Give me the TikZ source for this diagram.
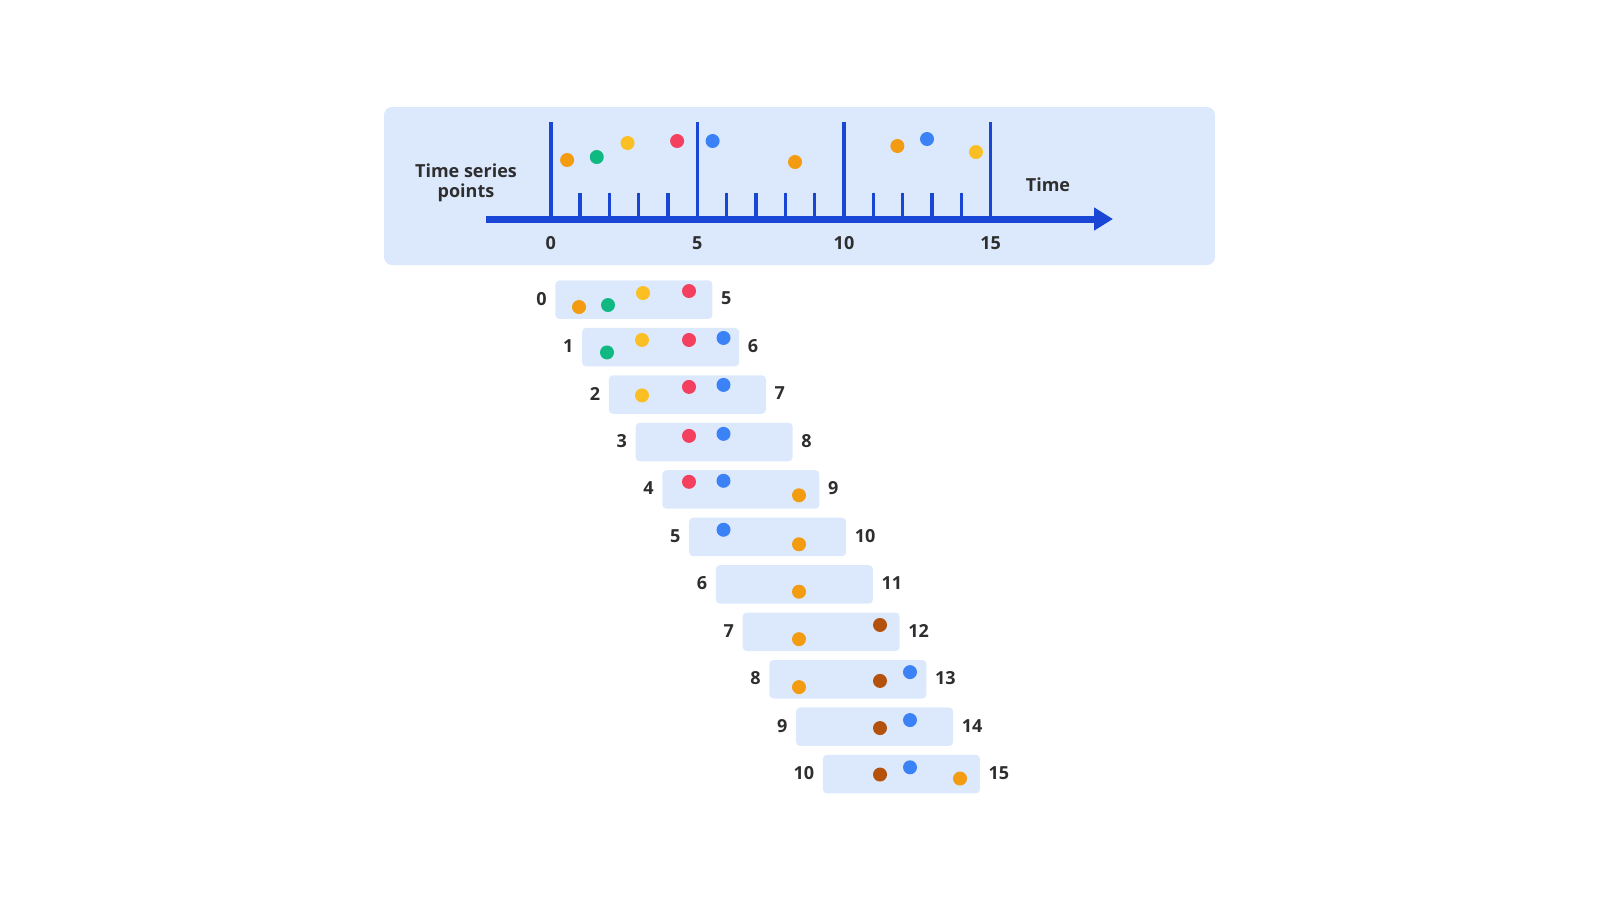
\documentclass[tikz,border=0pt]{standalone}
\usepackage{fontspec}
\setmainfont{Open Sans}
\usetikzlibrary{arrows.meta,positioning}
\definecolor{panelblue}{HTML}{DCE9FC}
\definecolor{axisblue}{HTML}{1A46D6}
\definecolor{txtgray}{HTML}{2E2E2E}
\definecolor{dotorange}{HTML}{F39C12}
\definecolor{dotgreen}{HTML}{10B981}
\definecolor{dotyellow}{HTML}{FBBF24}
\definecolor{dotred}{HTML}{F43F5E}
\definecolor{dotblue}{HTML}{3B82F6}
\definecolor{dotbrown}{HTML}{B4510C}
\tikzset{
  lbl/.style={font=\bfseries\fontsize{9}{10}\selectfont, text=txtgray, inner sep=0pt},
  win/.style={fill=panelblue, rounded corners=2pt, minimum width=78.5pt, minimum height=19.25pt, inner sep=0pt, anchor=north west},
  bigtick/.style={axisblue, line width=1.8pt},
  smalltick/.style={axisblue, line width=1.6pt}
}
\begin{document}
\begin{tikzpicture}[x=0.5pt,y=-0.5pt]
\useasboundingbox (0,0) rectangle (1600,901);
% top panel
\fill[panelblue, rounded corners=4pt] (384,107) rectangle (1215,265);
\coordinate (axstart) at (486,219);
\coordinate (axend) at (1113,219);
\foreach \x in {0,5,10,15} % edit here for the long ticks
\draw[bigtick,shift={({550.7+29.33*\x},0)}] (0,122) -- (0,219);
\foreach \x in {1,2,3,4,6,7,8,9,11,12,13,14} % edit here for the short ticks
\draw[smalltick,shift={({550.7+29.33*\x},0)}] (0,193) -- (0,219);
\draw[axisblue, line width=3.5pt, -{Triangle[length=9.5pt,width=11pt]}] (axstart) -- (axend);
\foreach \x in {0,5,10,15} % edit here for the numbers
\node[lbl] (num\x) at ({550.7+29.33*\x},243) {\x};
\node[lbl, align=center] (tsp) at (466,183) {Time series\\points};
\node[lbl] (timelbl) at (1048,185) {Time};
\foreach \t/\y/\c in {0.56/160/dotorange, 1.57/157/dotgreen, 2.62/143/dotyellow, 4.31/141/dotred, 5.52/141/dotblue, 8.33/162/dotorange, 11.82/146/dotorange, 12.83/139/dotblue, 14.5/152/dotyellow} % edit here for the points
\fill[\c] ({550.7+29.33*\t},\y) circle[radius=3.5pt];
% windows
\foreach \k in {0,...,10}{
  \pgfmathtruncatemacro\e{\k+5}
  \node[win] (w\k) at ({555+26.75*\k},{280+47.45*\k}) {};
  \node[lbl, anchor=east] (ws\k) at ([xshift=-4pt,yshift=0.5pt]w\k.west) {\k};
  \node[lbl, anchor=west] (we\k) at ([xshift=4pt,yshift=0.5pt]w\k.east) {\e};
}
\foreach \k/\x/\o/\c in {0/579/27/dotorange, 0/608/25/dotgreen, 0/643/13/dotyellow, 0/689/11/dotred,
  1/607/25/dotgreen, 1/642/12.5/dotyellow, 1/689/12.5/dotred, 1/723.5/10.5/dotblue,
  2/642/20.5/dotyellow, 2/689/12/dotred, 2/723.5/10/dotblue,
  3/689/13.5/dotred, 3/723.5/11.5/dotblue,
  4/689/12/dotred, 4/723.5/11/dotblue, 4/799/25.5/dotorange,
  5/723.5/12.5/dotblue, 5/799/27/dotorange,
  6/799/27/dotorange,
  7/880/12.8/dotbrown, 7/799/27/dotorange,
  8/910/12.5/dotblue, 8/880/21.3/dotbrown, 8/799/27.5/dotorange,
  9/910/13/dotblue, 9/880/21/dotbrown,
  10/910/12.8/dotblue, 10/880/20/dotbrown, 10/960/24/dotorange} % edit here for the window points
\fill[\c] (\x,{280+47.45*\k+\o}) circle[radius=3.5pt];
\end{tikzpicture}
\end{document}
